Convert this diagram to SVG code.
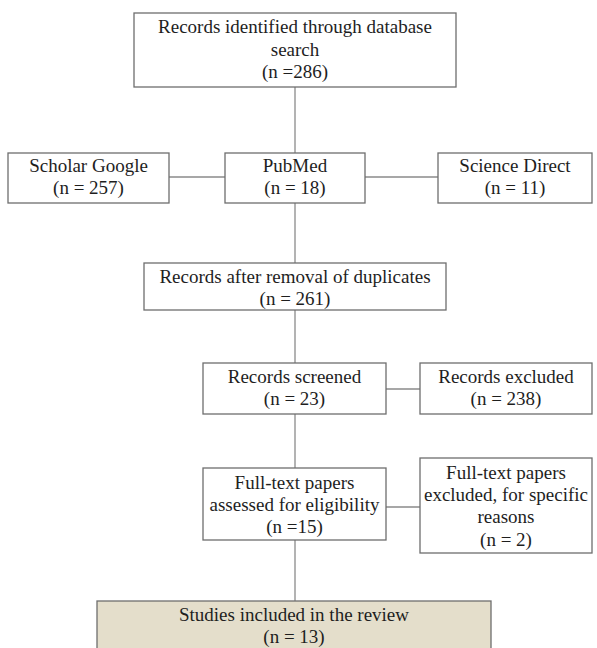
<svg xmlns="http://www.w3.org/2000/svg" width="597" height="648" viewBox="0 0 597 648">
<style>
.box{fill:#fff;stroke:#6e6e6e;stroke-width:1.3}
.fin{fill:#e4decb;stroke:#6e6e6e;stroke-width:1.3}
.t{font-family:"Liberation Serif","Times New Roman",serif;font-size:19px;fill:#1e1e1e;text-anchor:middle}
.c{stroke:#8a8a8a;stroke-width:1.3;fill:none}
</style>
<rect width="597" height="648" fill="#fff"/>
<g id="connectors">
<line class="c" x1="295" y1="87" x2="295" y2="153"/>
<line class="c" x1="295" y1="203" x2="295" y2="263"/>
<line class="c" x1="169" y1="177" x2="225" y2="177"/>
<line class="c" x1="365" y1="177" x2="438" y2="177"/>
<line class="c" x1="295" y1="310" x2="295" y2="363"/>
<line class="c" x1="386" y1="389" x2="420" y2="389"/>
<line class="c" x1="295" y1="414" x2="295" y2="468"/>
<line class="c" x1="386" y1="507" x2="420" y2="507"/>
<line class="c" x1="295" y1="540" x2="295" y2="601"/>
</g>
<g id="identified">
<rect class="box" x="134" y="13" width="322" height="74"/>
<text class="t" x="295" y="33">Records identified through database</text>
<text class="t" x="295" y="56">search</text>
<text class="t" x="295" y="78">(n =286)</text>
</g>
<g id="scholar">
<rect class="box" x="8" y="153" width="161" height="50"/>
<text class="t" x="88.5" y="172">Scholar Google</text>
<text class="t" x="88.5" y="194">(n = 257)</text>
</g>
<g id="pubmed">
<rect class="box" x="225" y="153" width="140" height="50"/>
<text class="t" x="295" y="172">PubMed</text>
<text class="t" x="295" y="194">(n = 18)</text>
</g>
<g id="sciencedirect">
<rect class="box" x="438" y="153" width="154" height="50"/>
<text class="t" x="515" y="172">Science Direct</text>
<text class="t" x="515" y="194">(n = 11)</text>
</g>
<g id="dedup">
<rect class="box" x="144" y="263" width="302" height="47"/>
<text class="t" x="295" y="283">Records after removal of duplicates</text>
<text class="t" x="295" y="305">(n = 261)</text>
</g>
<g id="screened">
<rect class="box" x="203" y="363" width="183" height="51"/>
<text class="t" x="294.5" y="383">Records screened</text>
<text class="t" x="294.5" y="405">(n = 23)</text>
</g>
<g id="excluded">
<rect class="box" x="420" y="363" width="172" height="51"/>
<text class="t" x="506" y="383">Records excluded</text>
<text class="t" x="506" y="405">(n = 238)</text>
</g>
<g id="fulltext">
<rect class="box" x="203" y="468" width="183" height="72"/>
<text class="t" x="294.5" y="489">Full-text papers</text>
<text class="t" x="294.5" y="511">assessed for eligibility</text>
<text class="t" x="294.5" y="533">(n =15)</text>
</g>
<g id="fulltext-excluded">
<rect class="box" x="420" y="458" width="172" height="95"/>
<text class="t" x="506" y="479">Full-text papers</text>
<text class="t" x="506" y="501">excluded, for specific</text>
<text class="t" x="506" y="523">reasons</text>
<text class="t" x="506" y="546">(n = 2)</text>
</g>
<g id="included">
<rect class="fin" x="97" y="601" width="394" height="52"/>
<text class="t" x="294" y="621">Studies included in the review</text>
<text class="t" x="294" y="643">(n = 13)</text>
</g>
</svg>
